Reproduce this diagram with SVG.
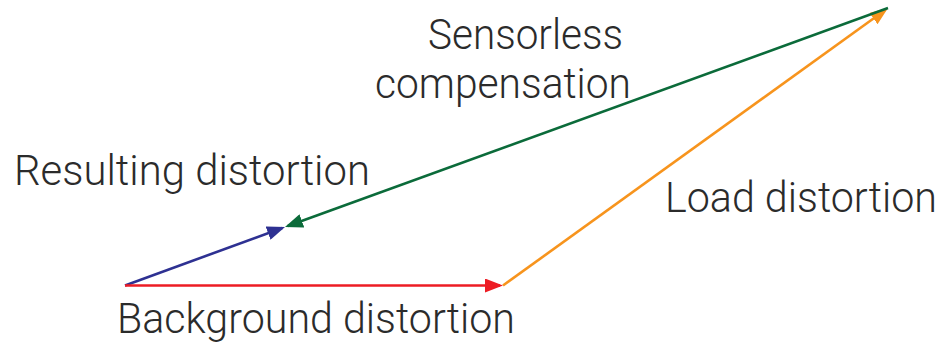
<svg xmlns="http://www.w3.org/2000/svg" width="943" height="344" viewBox="0 0 943 344">
  <style>
    .lbl { font-family: "Roboto", "Liberation Sans", sans-serif; font-weight: 300; font-size: 42px; fill: #2b2b2b; }
    .vec { fill: none; stroke-width: 2.6; stroke-linecap: butt; }
  </style>
  <defs>
    <marker id="ah-blue" viewBox="0 0 18 14" markerWidth="18" markerHeight="14" refX="15" refY="7" orient="auto" markerUnits="userSpaceOnUse">
      <path d="M0,0 L18,7 L0,14 z" fill="#2e3192"/>
    </marker>
    <marker id="ah-red" viewBox="0 0 18 14" markerWidth="18" markerHeight="14" refX="15" refY="7" orient="auto" markerUnits="userSpaceOnUse">
      <path d="M0,0 L18,7 L0,14 z" fill="#ed1c24"/>
    </marker>
    <marker id="ah-orange" viewBox="0 0 18 14" markerWidth="18" markerHeight="14" refX="15" refY="7" orient="auto" markerUnits="userSpaceOnUse">
      <path d="M0,0 L18,7 L0,14 z" fill="#f7941d"/>
    </marker>
    <marker id="ah-green" viewBox="0 0 18 14" markerWidth="18" markerHeight="14" refX="15" refY="7" orient="auto" markerUnits="userSpaceOnUse">
      <path d="M0,0 L18,7 L0,14 z" fill="#0b6b3a"/>
    </marker>
  </defs>

  <g id="connectors">
    <line class="vec" x1="125" y1="285.5" x2="282.2" y2="228" stroke="#2e3192" marker-end="url(#ah-blue)"/>
    <line class="vec" x1="125" y1="285.5" x2="500" y2="285.5" stroke="#ed1c24" marker-end="url(#ah-red)"/>
    <line class="vec" x1="503" y1="285.5" x2="885.6" y2="9.8" stroke="#f7941d" marker-end="url(#ah-orange)"/>
    <line class="vec" x1="888" y1="8" x2="287.8" y2="226" stroke="#0b6b3a" marker-end="url(#ah-green)"/>
  </g>

  <g id="sensorless-compensation">
    <text class="lbl" x="428" y="49" textLength="195" lengthAdjust="spacingAndGlyphs">Sensorless</text>
    <text class="lbl" x="375" y="98" textLength="256" lengthAdjust="spacingAndGlyphs">compensation</text>
  </g>
  <g id="resulting-distortion">
    <text class="lbl" x="14" y="185" textLength="356" lengthAdjust="spacingAndGlyphs">Resulting distortion</text>
  </g>
  <g id="load-distortion">
    <text class="lbl" x="665" y="212" textLength="272" lengthAdjust="spacingAndGlyphs">Load distortion</text>
  </g>
  <g id="background-distortion">
    <text class="lbl" x="117" y="333" textLength="398" lengthAdjust="spacingAndGlyphs">Background distortion</text>
  </g>
</svg>
